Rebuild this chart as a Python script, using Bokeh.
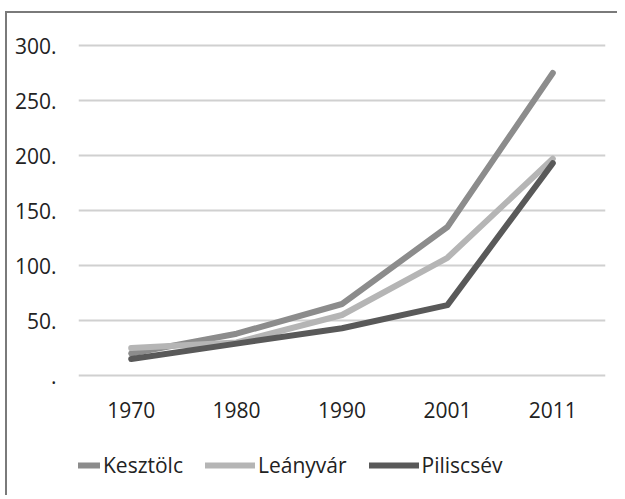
from bokeh.plotting import figure
from bokeh.models import Legend, LegendItem, Range1d, FixedTicker
from bokeh.embed import file_html
from bokeh.resources import INLINE

years = ["1970", "1980", "1990", "2001", "2011"]
kesztolc = [20, 38, 65, 135, 275]
leanyvar = [25, 30, 55, 107, 197]
piliscsev = [15, 29, 43, 64, 193]
y_ticks = [0, 50, 100, 150, 200, 250, 300]
y_labels = {0: ".", 50: "50.", 100: "100.", 150: "150.", 200: "200.", 250: "250.", 300: "300."}

FONT = "Open Sans"

p = figure(x_range=years, y_range=Range1d(-110.9, 310), width=612, height=484,
           output_backend="svg", toolbar_location=None,
           min_border_left=71, min_border_right=14, min_border_top=21, min_border_bottom=0)
p.outline_line_color = None
p.background_fill_color = "white"
p.border_fill_color = "white"
p.styles = {"border-left": "2px solid #7a7a7a", "border-top": "2px solid #7a7a7a",
            "margin-left": "5px", "margin-top": "11px"}

p.xgrid.grid_line_color = None
p.ygrid.grid_line_color = "#d0d0d0"
p.ygrid.grid_line_width = 2
p.ygrid.ticker = FixedTicker(ticks=y_ticks)
p.yaxis.ticker = FixedTicker(ticks=y_ticks)
p.yaxis.major_label_overrides = y_labels

for ax in (p.xaxis, p.yaxis):
    ax.axis_line_color = None
    ax.major_tick_line_color = None
    ax.minor_tick_line_color = None
    ax.major_label_text_font = FONT
    ax.major_label_text_font_size = "21px"
    ax.major_label_text_color = "#222222"
p.yaxis.major_label_standoff = 16
p.xaxis.major_label_standoff = 15
p.xaxis.fixed_location = -5

series = [("Kesztölc", kesztolc, "#8c8c8c"),
          ("Leányvár", leanyvar, "#b5b5b5"),
          ("Piliscsév", piliscsev, "#595959")]
items = []
for name, vals, col in series:
    r = p.line(years, vals, line_color=col, line_width=6, line_cap="round", line_join="round")
    items.append(LegendItem(label=name, renderers=[r]))

legend = Legend(items=items, orientation="horizontal", location=(-28, 18),
                glyph_width=50, glyph_height=20, label_standoff=3, spacing=22,
                padding=0, margin=0, border_line_color=None, background_fill_alpha=0,
                label_text_font=FONT, label_text_font_size="21px", label_text_color="#222222")
p.add_layout(legend, "center")

open("out.html", "w").write(file_html(p, INLINE))
